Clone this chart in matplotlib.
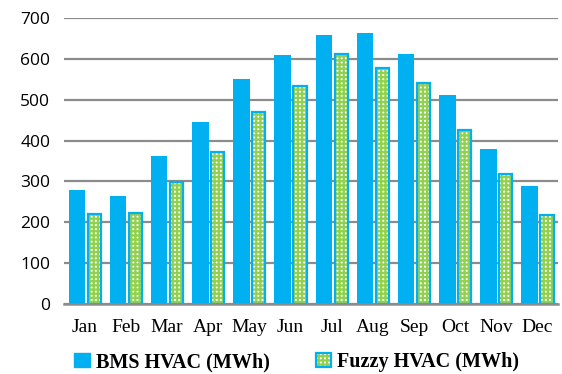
import numpy as np
import matplotlib.pyplot as plt
import matplotlib.patches as mpatches

months = ['Jan', 'Feb', 'Mar', 'Apr', 'May', 'Jun',
          'Jul', 'Aug', 'Sep', 'Oct', 'Nov', 'Dec']
bms = [279, 265, 363, 446, 551, 610, 659, 662, 613, 511, 380, 288]
fuzzy = [220, 224, 299, 371, 470, 533, 613, 578, 542, 425, 318, 219]
yticks = [0, 100, 200, 300, 400, 500, 600, 700]

blue = '#00b0f0'
green = '#92d050'

plt.rcParams['hatch.linewidth'] = 1.6

fig = plt.figure(figsize=(5.62, 3.74), dpi=100)
ax = fig.add_axes([0.114, 0.187, 0.879, 0.765])

x = np.arange(len(months))
ax.bar(x - 0.19, bms, width=0.40, color=blue, zorder=3)
# checker fill, then blue outline on top
ax.bar(x + 0.23, fuzzy, width=0.32, color='white', edgecolor=green,
       hatch='++++', linewidth=0, zorder=3)
ax.bar(x + 0.23, fuzzy, width=0.32, facecolor='none', edgecolor=blue,
       linewidth=1.6, zorder=4)

ax.set_xlim(-0.5, 11.5)
ax.set_ylim(0, 700)
ax.set_yticks(yticks)
ax.set_xticks(x)
ax.set_xticklabels(months, family='Liberation Serif', fontsize=14)
for t in ax.get_yticklabels():
    t.set_family('Open Sans')
    t.set_fontsize(12.5)
ax.tick_params(length=0, pad=10)
ax.tick_params(axis='x', pad=11)

ax.grid(axis='y', color='#8c8c8c', linewidth=1.6, zorder=0)
for s in ['top', 'right', 'left']:
    ax.spines[s].set_visible(False)
ax.spines['bottom'].set_color('#8c8c8c')
ax.spines['bottom'].set_linewidth(1.8)
ax.spines['bottom'].set_zorder(5)

h1 = mpatches.Patch(facecolor=blue, edgecolor=blue)
h2 = mpatches.Patch(facecolor='white', edgecolor=green, hatch='++++', linewidth=0)
h2b = mpatches.Patch(facecolor='none', edgecolor=blue, linewidth=1.6)
fig.legend([h1, (h2, h2b)], ['BMS HVAC (MWh)', 'Fuzzy HVAC (MWh)'],
           loc='center', bbox_to_anchor=(0.528, 0.032), ncol=2, frameon=False,
           prop={'family': 'Liberation Serif', 'weight': 'bold', 'size': 14.5},
           handlelength=0.75, handleheight=0.75, handletextpad=0.3,
           columnspacing=2.3)

fig.savefig('out.png', dpi=100)
